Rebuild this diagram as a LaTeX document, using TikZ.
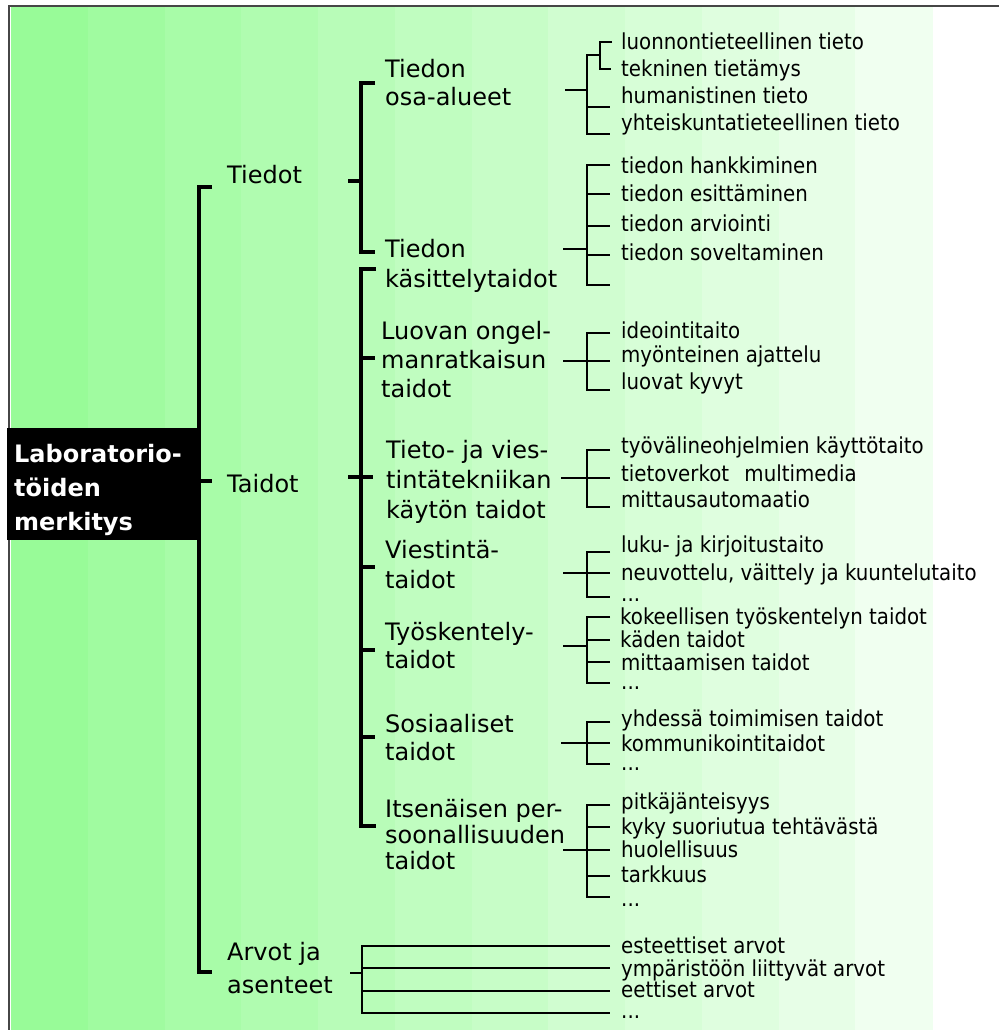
\documentclass[tikz,border=0pt]{standalone}
\usepackage{fontspec}
\setmainfont{DejaVu Sans}
\newfontfamily\narrowfont{DejaVu Sans Condensed}
\definecolor{bandleft}{RGB}{152,251,152}
\definecolor{bandright}{RGB}{240,255,240}
\definecolor{framegray}{RGB}{70,70,70}
\tikzset{
  branch/.style={line width=3.5pt},
  twig/.style={line width=1.7pt},
  rootbox/.style={fill=black, anchor=north west, minimum width=190pt, minimum height=112pt, inner sep=0pt},
  roottext/.style={anchor=base west, align=left, inner sep=0pt, text=white, font=\bfseries\fontsize{24}{34}\selectfont},
  topic/.style={anchor=base west, align=left, inner sep=0pt, font=\fontsize{24}{29}\selectfont},
  leaf/.style={anchor=base west, inner sep=0pt, font=\narrowfont\fontsize{22}{24}\selectfont},
}

\begin{document}
\begin{tikzpicture}[x=1pt,y=-1pt]
\useasboundingbox (0,0) rectangle (999,1030);
% Background in bands, darker green on the left
\foreach \i [evaluate=\i as \p using int(100*\i/11)] in {0,...,11}
  \fill[bandright!\p!bandleft] ({11+76.75*\i},7) rectangle ({11.6+76.75*(\i+1)},1030);
% Frame on the top and the left
\draw[line width=2pt,framegray] (9,1030) -- (9,6) -- (999,6);
% Root of the map (multi-line nodes sit on their last line)
\node[rootbox] (root) at (7,428) {};
\node[roottext] (roottext) at (14,530) {Laboratorio-\\töiden\\merkitys};
% First level bracket
\coordinate (l1top) at (199,187);
\coordinate (l1mid) at (199,481);
\coordinate (l1bot) at (199,972);
\draw[branch] ([xshift=13pt]l1top) -- (l1top) -- (l1bot) -- ++(13,0);
\draw[branch] (l1mid) -- ++(13,0);
\node[topic] (tiedot) at (227,183) {Tiedot};
\node[topic] (taidot) at (227,492) {Taidot};
\node[topic] (arvot) at (227,993) {Arvot ja\\[4pt]asenteet};
% Tiedot bracket
\coordinate (tdin) at (348,181);
\coordinate (tdtop) at (361,83);
\coordinate (tdbot) at (361,252);
\draw[branch] (tdin) -- (tdin -| tdtop);
\draw[branch] ([xshift=14pt]tdtop) -- (tdtop) -- (tdbot) -- ++(14,0);
\node[topic] (osa) at (385,106) {Tiedon\\[-1pt]osa-alueet};
\node[topic] (kasit) at (385,287) {Tiedon\\[1pt]käsittelytaidot};
% Taidot bracket
\coordinate (tain) at (348,477);
\coordinate (tatop) at (361,269);
\coordinate (tabot) at (361,826);
\draw[branch] (tain) -- ++(25,0);
\draw[branch] ([xshift=15pt]tatop) -- (tatop) -- (tabot) -- ++(15,0);
\foreach \y in {358,567,650,737}
  \draw[branch] (tatop |- 0,\y) -- ++(14,0);
\node[topic] (luova) at (381,397) {Luovan ongel-\\manratkaisun\\taidot};
\node[topic] (tvt) at (386,518) {Tieto- ja vies-\\[1pt]tintätekniikan\\[1pt]käytön taidot};
\node[topic] (viest) at (385,588) {Viestintä-\\[1pt]taidot};
\node[topic] (tyo) at (385,668) {Työskentely-\\[-1pt]taidot};
\node[topic] (sos) at (385,760) {Sosiaaliset\\[-1pt]taidot};
\node[topic] (itse) at (385,869) {Itsenäisen per-\\[-3pt]soonallisuuden\\[-3pt]taidot};
% Tiedon osa-alueet
\coordinate (osain) at (565,90);
\coordinate (osatop) at (587,55);
\coordinate (osabot) at (587,134);
\draw[twig] (osain) -- (osain -| osatop);
\draw[twig] ([xshift=13pt]osatop) -- (osatop) -- (osabot) -- ++(23,0);
\draw[twig] (osatop |- 0,107) -- ++(23,0);
\coordinate (forktop) at (600,42);
\coordinate (forkbot) at (600,69);
\draw[twig] ([xshift=12pt]forktop) -- (forktop) -- (forkbot) -- ++(11,0);
\node[leaf] (osa1) at (621,50) {luonnontieteellinen tieto};
\node[leaf] (osa2) at (621,77) {tekninen tietämys};
\node[leaf] (osa3) at (621,104) {humanistinen tieto};
\node[leaf] (osa4) at (621,131) {yhteiskuntatieteellinen tieto};
% Tiedon kasittelytaidot
\coordinate (kasin) at (563,249);
\coordinate (kastop) at (587,165);
\coordinate (kasbot) at (587,285);
\draw[twig] (kasin) -- (kasin -| kastop);
\draw[twig] ([xshift=23pt]kastop) -- (kastop) -- (kasbot) -- ++(23,0);
\foreach \y in {194,226,255}
  \draw[twig] (kastop |- 0,\y) -- ++(23,0);
\node[leaf] (kas1) at (621,173) {tiedon hankkiminen};
\node[leaf] (kas2) at (621,201) {tiedon esittäminen};
\node[leaf] (kas3) at (621,231) {tiedon arviointi};
\node[leaf] (kas4) at (621,260) {tiedon soveltaminen};
% Luova ongelmanratkaisu
\coordinate (luoin) at (563,361);
\coordinate (luotop) at (587,333);
\coordinate (luobot) at (587,390);
\draw[twig] (luoin) -- ++(47,0);
\draw[twig] ([xshift=23pt]luotop) -- (luotop) -- (luobot) -- ++(23,0);
\node[leaf] (luo1) at (621,338) {ideointitaito};
\node[leaf] (luo2) at (621,362) {myönteinen ajattelu};
\node[leaf] (luo3) at (621,389) {luovat kyvyt};
% Tieto- ja viestintatekniikka
\coordinate (tvtin) at (561,478);
\coordinate (tvttop) at (587,450);
\coordinate (tvtbot) at (587,507);
\draw[twig] (tvtin) -- ++(49,0);
\draw[twig] ([xshift=23pt]tvttop) -- (tvttop) -- (tvtbot) -- ++(23,0);
\node[leaf] (tvt1) at (621,453) {työvälineohjelmien käyttötaito};
\node[leaf] (tvt2) at (621,481) {tietoverkot\hspace{0.7em}multimedia};
\node[leaf] (tvt3) at (621,507) {mittausautomaatio};
% Viestintataidot
\coordinate (viein) at (563,573);
\coordinate (vietop) at (587,552);
\coordinate (viebot) at (587,597);
\draw[twig] (viein) -- ++(47,0);
\draw[twig] ([xshift=23pt]vietop) -- (vietop) -- (viebot) -- ++(23,0);
\node[leaf] (vie1) at (621,552) {luku- ja kirjoitustaito};
\node[leaf] (vie2) at (621,580) {neuvottelu, väittely ja kuuntelutaito};
\node[leaf] (vie3) at (621,601) {...};
% Tyoskentelytaidot
\coordinate (tyoin) at (563,646);
\coordinate (tyotop) at (587,617);
\coordinate (tyobot) at (587,683);
\draw[twig] (tyoin) -- (tyoin -| tyotop);
\draw[twig] ([xshift=23pt]tyotop) -- (tyotop) -- (tyobot) -- ++(23,0);
\foreach \y in {640,662}
  \draw[twig] (tyotop |- 0,\y) -- ++(23,0);
\node[leaf] (tyo1) at (620,624) {kokeellisen työskentelyn taidot};
\node[leaf] (tyo2) at (620,647) {käden taidot};
\node[leaf] (tyo3) at (621,670) {mittaamisen taidot};
\node[leaf] (tyo4) at (621,689) {...};
% Sosiaaliset taidot
\coordinate (sosin) at (561,743);
\coordinate (sostop) at (587,722);
\coordinate (sosbot) at (587,764);
\draw[twig] (sosin) -- ++(49,0);
\draw[twig] ([xshift=23pt]sostop) -- (sostop) -- (sosbot) -- ++(23,0);
\node[leaf] (sos1) at (621,726) {yhdessä toimimisen taidot};
\node[leaf] (sos2) at (621,751) {kommunikointitaidot};
\node[leaf] (sos3) at (621,770) {...};
% Itsenaisen persoonallisuuden taidot
\coordinate (itsin) at (563,850);
\coordinate (itstop) at (587,805);
\coordinate (itsbot) at (587,897);
\draw[twig] (itsin) -- ++(47,0);
\draw[twig] ([xshift=23pt]itstop) -- (itstop) -- (itsbot) -- ++(23,0);
\foreach \y in {827,876}
  \draw[twig] (itstop |- 0,\y) -- ++(23,0);
\node[leaf] (its1) at (621,809) {pitkäjänteisyys};
\node[leaf] (its2) at (621,834) {kyky suoriutua tehtävästä};
\node[leaf] (its3) at (621,857) {huolellisuus};
\node[leaf] (its4) at (621,882) {tarkkuus};
\node[leaf] (its5) at (621,906) {...};
% Arvot ja asenteet
\coordinate (arvin) at (350,973);
\coordinate (arvtop) at (362,946);
\coordinate (arvbot) at (362,1013);
\draw[twig] (arvin) -- (arvin -| arvtop);
\draw[twig] ([xshift=248pt]arvtop) -- (arvtop) -- (arvbot) -- ++(248,0);
\foreach \y in {968,991}
  \draw[twig] (arvtop |- 0,\y) -- ++(248,0);
\node[leaf] (arv1) at (621,953) {esteettiset arvot};
\node[leaf] (arv2) at (621,976) {ympäristöön liittyvät arvot};
\node[leaf] (arv3) at (621,997) {eettiset arvot};
\node[leaf] (arv4) at (621,1018) {...};
\end{tikzpicture}
\end{document}
